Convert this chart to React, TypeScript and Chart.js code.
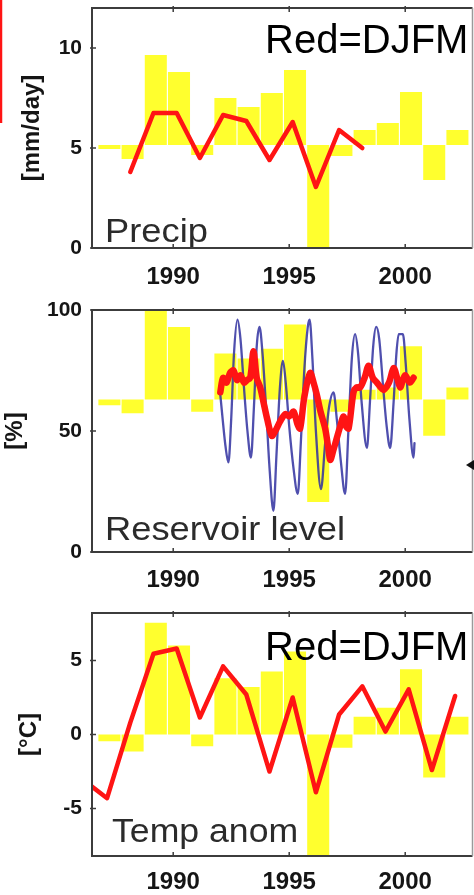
import React, { useEffect, useRef } from "react";
import { Chart, registerables } from "chart.js";

Chart.register(...registerables);

// ---------- data ----------
const barYears = [1987, 1988, 1989, 1990, 1991, 1992, 1993, 1994, 1995, 1996, 1997, 1998, 1999, 2000, 2001, 2002];
const xTickValues = [1990, 1995, 2000];

const precipBase = 5.15;
const precipBars = [4.95, 4.45, 9.65, 8.8, 4.65, 7.5, 7.05, 7.75, 8.9, 0.05, 4.6, 5.9, 6.25, 7.8, 3.4, 5.9];
const precipDjfmYears = [1988, 1989, 1990, 1991, 1992, 1993, 1994, 1995, 1996, 1997, 1998];
const precipDjfm = [3.8, 6.75, 6.75, 4.5, 6.65, 6.35, 4.4, 6.3, 3.05, 5.9, 5.0];
const precipTicks = [0, 5, 10];

const reservoirBase = 63;
const reservoirBars = [60.6, 57.3, 100, 93, 58, 82, 80, 84, 94, 20.7, 58, 67, 68, 85, 48, 68];
const reservoirMonthT = [
  1992.0, 1992.1, 1992.25, 1992.38, 1992.5, 1992.62, 1992.77, 1992.9, 1993.05, 1993.2, 1993.35, 1993.48,
  1993.6, 1993.72, 1993.85, 1994.0, 1994.15, 1994.32, 1994.45, 1994.6, 1994.73, 1994.85, 1995.0, 1995.18,
  1995.37, 1995.5, 1995.65, 1995.8, 1995.88, 1996.0, 1996.15, 1996.37, 1996.55, 1996.72, 1996.91, 1997.05,
  1997.22, 1997.41, 1997.55, 1997.7, 1997.84, 1997.97, 1998.12, 1998.35, 1998.48, 1998.62, 1998.75, 1998.88,
  1999.05, 1999.2, 1999.35, 1999.5, 1999.62, 1999.72, 1999.9, 2000.02, 2000.18, 2000.36, 2000.4,
];
const reservoirMonth = [
  68, 58, 44, 37, 55, 82, 96, 88, 68, 50, 39, 60,
  85, 93, 82, 60, 35, 17, 40, 68, 79, 70, 52, 35,
  24, 45, 75, 93, 96, 80, 50, 26, 45, 60, 66, 55,
  38, 24, 50, 80, 90, 82, 62, 43, 62, 85, 93, 88,
  68, 52, 43, 62, 82, 90, 90, 78, 55, 39, 45,
];
const reservoirSmoothT = [
  1992.03, 1992.15, 1992.3, 1992.45, 1992.6, 1992.75, 1992.9, 1993.05, 1993.18, 1993.32, 1993.46, 1993.6,
  1993.75, 1993.89, 1994.05, 1994.25, 1994.4, 1994.61, 1994.83, 1995.0, 1995.19, 1995.35, 1995.47, 1995.65,
  1995.9, 1996.05, 1996.19, 1996.35, 1996.55, 1996.7, 1996.77, 1996.9, 1997.05, 1997.2, 1997.34, 1997.45,
  1997.56, 1997.77, 1997.9, 1998.06, 1998.25, 1998.42, 1998.6, 1998.78, 1998.95, 1999.07, 1999.3, 1999.5,
  1999.65, 1999.78, 1999.9, 2000.0, 2000.2, 2000.36,
];
const reservoirSmooth = [
  66, 72, 70, 74, 75, 71, 73, 70, 71, 72, 83, 72,
  68, 62, 55, 48, 50, 54, 57, 56, 58, 53, 51, 64,
  74, 70, 65, 58, 51, 42, 38, 42, 47, 52, 56, 52,
  51, 66, 68, 68, 72, 77, 72, 70, 68, 67, 70, 76,
  72, 68, 71, 73, 70, 72,
];
const reservoirTicks = [0, 50, 100];

const tempBase = 0;
const tempBars = [-0.45, -1.15, 7.55, 6.0, -0.8, 3.8, 3.2, 4.25, 5.6, -8.3, -0.9, 1.2, 1.8, 4.4, -2.9, 1.2];
const tempDjfmYears = [1986, 1987, 1988, 1989, 1990, 1991, 1992, 1993, 1994, 1995, 1996, 1997, 1998, 1999, 2000, 2001, 2002];
const tempDjfm = [-3.1, -4.3, 0.8, 5.45, 5.8, 1.15, 4.6, 2.7, -2.5, 2.5, -3.9, 1.35, 3.25, 0.2, 3.05, -2.4, 2.6];
const tempTicks = [-5, 0, 5];

// time offsets within the year (annual bars centred later than winter means)
const BAR_OFFSET = 0.25;
const DJFM_OFFSET = 0.15;

// ---------- styling ----------
const YELLOW = "#ffff2e";
const RED = "#ff1414";
const BLUE = "rgba(48,48,160,0.85)";
const FONT = '"Liberation Sans", Arial, Helvetica, sans-serif';

type TextItem = { text: string; dx: number; dy: number; from: "top" | "bottom"; font: string; color: string; sx?: number };

function overlay(texts: TextItem[], yTicks: number[], extra?: (ctx: CanvasRenderingContext2D, chart: any) => void) {
  return {
    id: "overlay",
    afterDatasetsDraw(chart: any) {
      const { ctx, chartArea: a, scales } = chart;
      ctx.save();
      for (const t of texts) {
        ctx.save();
        ctx.font = t.font;
        ctx.fillStyle = t.color;
        ctx.textBaseline = "alphabetic";
        ctx.textAlign = "left";
        ctx.translate(a.left + t.dx, t.from === "top" ? a.top + t.dy : a.bottom + t.dy);
        ctx.scale(t.sx ?? 1, 1);
        ctx.fillText(t.text, 0, 0);
        ctx.restore();
      }
      // frame
      ctx.strokeStyle = "#3c3c3c";
      ctx.lineWidth = 2;
      ctx.beginPath();
      ctx.moveTo(a.right, a.top);
      ctx.lineTo(a.left, a.top);
      ctx.lineTo(a.left, a.bottom);
      ctx.lineTo(a.right, a.bottom);
      ctx.stroke();
      ctx.strokeStyle = "#9a9a9a";
      ctx.lineWidth = 1.5;
      ctx.beginPath();
      ctx.moveTo(a.right, a.top);
      ctx.lineTo(a.right, a.bottom);
      ctx.stroke();
      // tick marks
      ctx.strokeStyle = "#3c3c3c";
      ctx.lineWidth = 1.5;
      ctx.beginPath();
      for (const v of xTickValues) {
        const px = scales.x.getPixelForValue(v);
        ctx.moveTo(px, a.bottom);
        ctx.lineTo(px, a.bottom - 4);
        ctx.moveTo(px, a.top - 2);
        ctx.lineTo(px, a.top + 4);
      }
      for (const v of yTicks) {
        const py = scales.y.getPixelForValue(v);
        ctx.moveTo(a.left - 2, py);
        ctx.lineTo(a.left + 4, py);
      }
      ctx.stroke();
      if (extra) extra(ctx, chart);
      ctx.restore();
    },
  };
}

type PanelSpec = {
  datasets: any[];
  yMin: number;
  yMax: number;
  yTicks: number[];
  yTitle: string;
  yTitlePad: number;
  padTop: number;
  xAxisH: number;
  xLabelPad: number;
  plugin: any;
};

function buildConfig(p: PanelSpec) {
  return {
    type: "bar",
    data: { datasets: p.datasets },
    options: {
      animation: false,
      responsive: false,
      maintainAspectRatio: false,
      layout: { padding: { top: p.padTop, right: 1.5, left: 0, bottom: 0 } },
      plugins: { legend: { display: false }, tooltip: { enabled: false } },
      scales: {
        x: {
          type: "linear",
          min: 1986.5,
          max: 2002.9,
          offset: false,
          grid: { display: false, drawTicks: false, offset: false },
          border: { display: false },
          ticks: {
            padding: p.xLabelPad,
            color: "#151515",
            font: { family: FONT, size: 24, weight: "bold", lineHeight: 1.2 },
            callback: (v: number) => String(v),
            maxRotation: 0,
          },
          afterBuildTicks: (s: any) => {
            s.ticks = xTickValues.map((v) => ({ value: v }));
          },
          afterFit: (s: any) => {
            s.height = p.xAxisH;
            s.paddingLeft = 0;
            s.paddingRight = 0;
          },
        },
        y: {
          type: "linear",
          min: p.yMin,
          max: p.yMax,
          grid: { display: false, drawTicks: false },
          border: { display: false },
          ticks: {
            padding: 10,
            color: "#151515",
            font: { family: FONT, size: 21, weight: "bold", lineHeight: 1.2 },
            callback: (v: number) => String(v),
          },
          title: {
            display: true,
            text: p.yTitle,
            color: "#151515",
            font: { family: FONT, size: 24, weight: "bold", lineHeight: 1.2 },
            padding: { top: p.yTitlePad, bottom: 0 },
          },
          afterBuildTicks: (s: any) => {
            s.ticks = p.yTicks.map((v) => ({ value: v }));
          },
          afterFit: (s: any) => {
            s.width = 92;
            s.paddingTop = 0;
            s.paddingBottom = 0;
          },
        },
      },
    },
    plugins: [p.plugin],
  };
}

function barDataset(values: number[], base: number) {
  return {
    type: "bar",
    data: barYears.map((yr, i) => ({ x: yr + BAR_OFFSET, y: [base, values[i]] })),
    backgroundColor: YELLOW,
    borderWidth: 0,
    barPercentage: 0.95,
    categoryPercentage: 1,
    grouped: false,
    order: 3,
  };
}

function lineDataset(xs: number[], ys: number[], color: string, width: number, tension: number, order: number, monotone = false) {
  return {
    type: "line",
    data: xs.map((x, i) => ({ x, y: ys[i] })),
    borderColor: color,
    borderWidth: width,
    pointRadius: 0,
    tension,
    cubicInterpolationMode: monotone ? "monotone" : "default",
    fill: false,
    order,
    borderJoinStyle: "round",
    borderCapStyle: "round",
  };
}

const bigFont = `40px ${FONT}`;
const labelFont = `33px ${FONT}`;

function Panel({ top, height, spec }: { top: number; height: number; spec: PanelSpec }) {
  const ref = useRef<HTMLCanvasElement | null>(null);
  useEffect(() => {
    if (!ref.current) return;
    const chart = new Chart(ref.current, buildConfig(spec) as any);
    return () => chart.destroy();
  }, []);
  return (
    <canvas
      ref={ref}
      width={474}
      height={height}
      style={{ position: "absolute", left: 0, top, width: 474, height, display: "block" }}
    />
  );
}

const precipSpec: PanelSpec = {
  datasets: [
    barDataset(precipBars, precipBase),
    lineDataset(precipDjfmYears.map((y) => y + DJFM_OFFSET), precipDjfm, RED, 4.5, 0, 1),
  ],
  yMin: 0,
  yMax: 12,
  yTicks: precipTicks,
  yTitle: "[mm/day]",
  yTitlePad: 18,
  padTop: 8,
  xAxisH: 52,
  xLabelPad: 15,
  plugin: overlay(
    [
      { text: "Red=DJFM", dx: 173, dy: 45, from: "top", font: bigFont, color: "#000" },
      { text: "Precip", dx: 13, dy: -6, from: "bottom", font: labelFont, color: "#2b2b2b", sx: 1.1 },
    ],
    precipTicks,
    (ctx) => {
      ctx.strokeStyle = RED;
      ctx.lineWidth = 2.5;
      ctx.beginPath();
      ctx.moveTo(1, 0);
      ctx.lineTo(1, 123);
      ctx.stroke();
    }
  ),
};

const reservoirSpec: PanelSpec = {
  datasets: [
    barDataset(reservoirBars, reservoirBase),
    lineDataset(reservoirMonthT, reservoirMonth, BLUE, 2.3, 0, 2, true),
    lineDataset(reservoirSmoothT, reservoirSmooth, RED, 6.5, 0.3, 1),
  ],
  yMin: 0,
  yMax: 100,
  yTicks: reservoirTicks,
  yTitle: "[%]",
  yTitlePad: 1,
  padTop: 10,
  xAxisH: 48,
  xLabelPad: 14,
  plugin: overlay(
    [{ text: "Reservoir level", dx: 13, dy: -12, from: "bottom", font: labelFont, color: "#2b2b2b", sx: 1.1 }],
    reservoirTicks,
    (ctx) => {
      ctx.fillStyle = "#111";
      ctx.beginPath();
      ctx.moveTo(466, 165);
      ctx.lineTo(474, 160);
      ctx.lineTo(474, 170);
      ctx.closePath();
      ctx.fill();
    }
  ),
};

const tempSpec: PanelSpec = {
  datasets: [
    barDataset(tempBars, tempBase),
    lineDataset(tempDjfmYears.map((y) => y + DJFM_OFFSET), tempDjfm, RED, 4.5, 0, 1),
  ],
  yMin: -8.2,
  yMax: 8.2,
  yTicks: tempTicks,
  yTitle: "[°C]",
  yTitlePad: 15,
  padTop: 13,
  xAxisH: 39,
  xLabelPad: 12,
  plugin: overlay(
    [
      { text: "Red=DJFM", dx: 173, dy: 47, from: "top", font: bigFont, color: "#000" },
      { text: "Temp anom", dx: 20, dy: -14, from: "bottom", font: labelFont, color: "#2b2b2b", sx: 1.08 },
    ],
    tempTicks
  ),
};

export default function App() {
  return (
    <div
      style={{
        position: "absolute",
        left: 0,
        top: 0,
        width: 474,
        height: 895,
        overflow: "hidden",
        background: "#fff",
      }}
    >
      <Panel top={0} height={300} spec={precipSpec} />
      <Panel top={300} height={300} spec={reservoirSpec} />
      <Panel top={600} height={295} spec={tempSpec} />
    </div>
  );
}
